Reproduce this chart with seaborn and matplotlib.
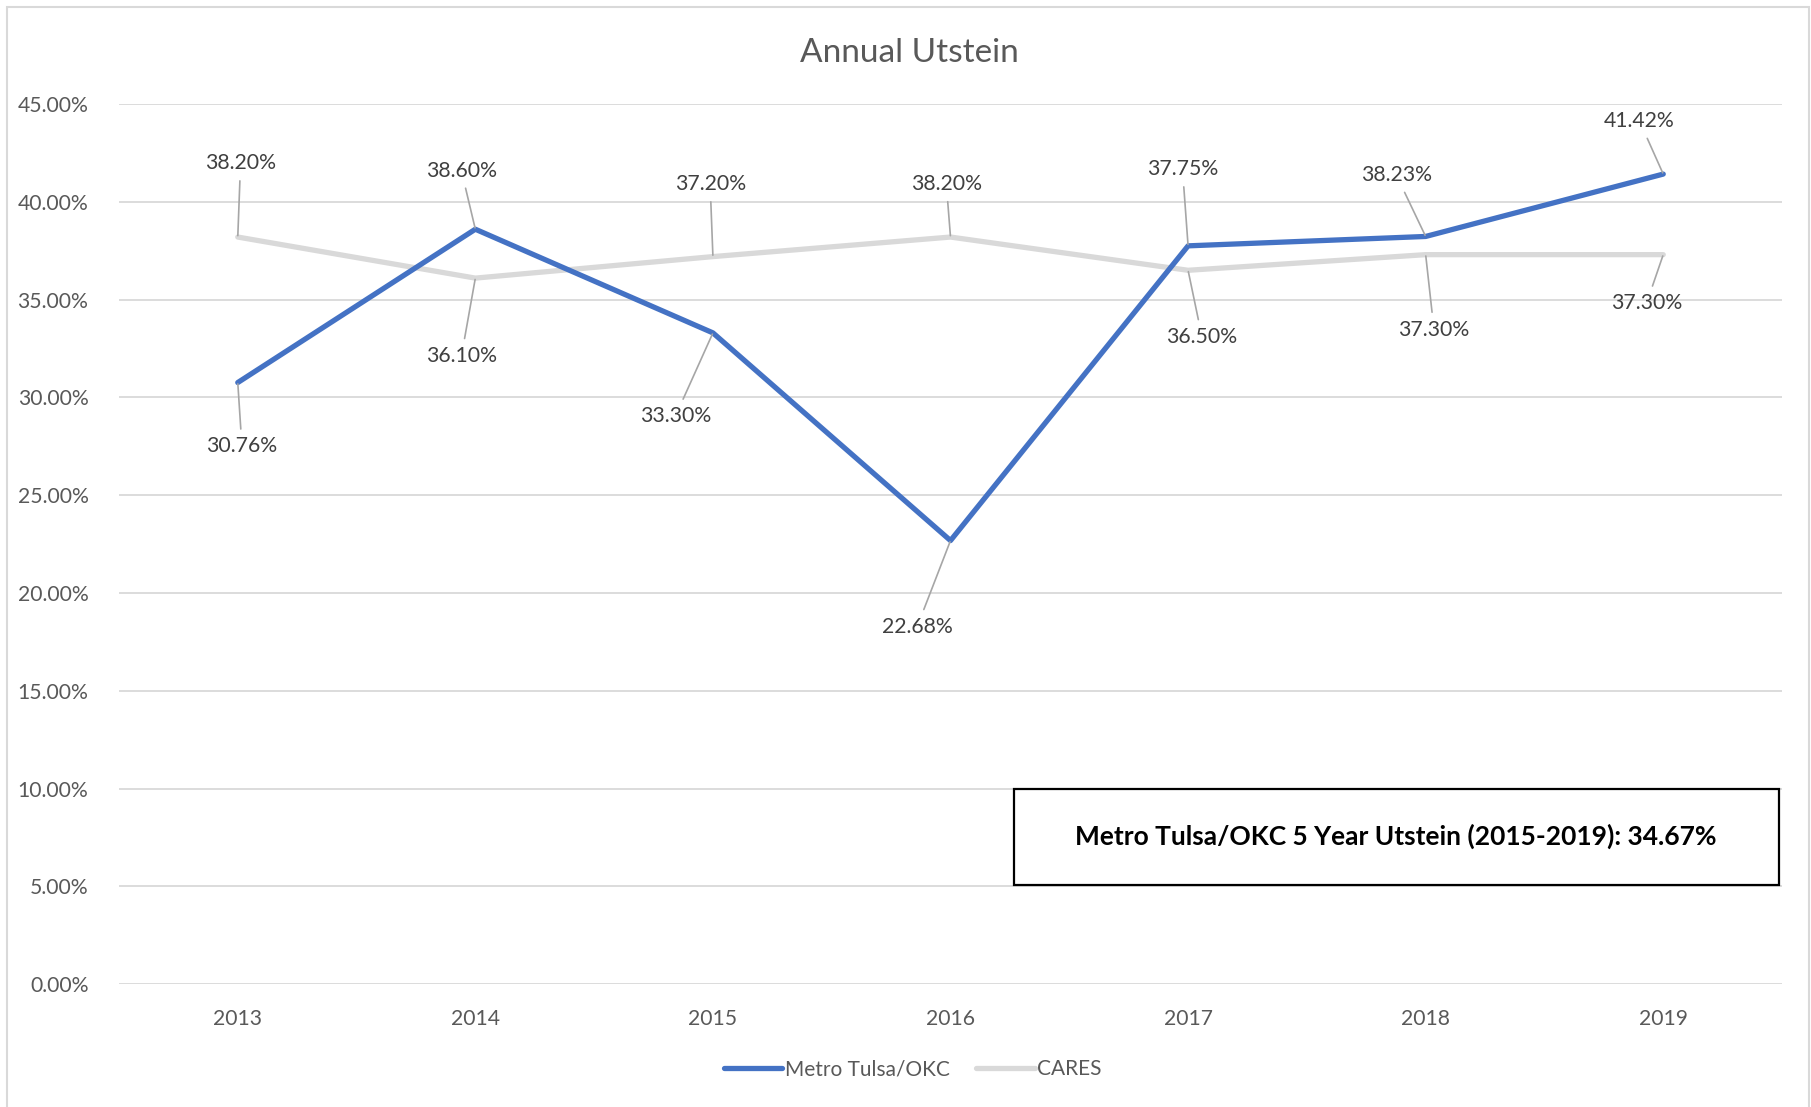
import matplotlib
matplotlib.use("Agg")
import matplotlib.pyplot as plt
import matplotlib.patches as mpatches
import pandas as pd
import seaborn as sns

# values (percent)
years = ["2013", "2014", "2015", "2016", "2017", "2018", "2019"]
metro = [30.76, 38.60, 33.30, 22.68, 37.75, 38.23, 41.42]
cares = [38.20, 36.10, 37.20, 38.20, 36.50, 37.30, 37.30]
series_names = ["Metro Tulsa/OKC", "CARES"]
y_ticks = [0, 5, 10, 15, 20, 25, 30, 35, 40, 45]
title = "Annual Utstein"
box_text = "Metro Tulsa/OKC 5 Year Utstein (2015-2019): 34.67%"

# label offsets (points, x right / y up) for the data labels
metro_off = [(3, -46), (-10, 42), (-27, -60), (-24, -62), (-4, 55), (-21, 44), (-17, 38)]
cares_off = [(2, 53), (-10, -56), (-2, 52), (-3, 38), (10, -48), (6, -54), (-12, -35)]

colors = {"Metro Tulsa/OKC": "#4472C4", "CARES": "#D9D9D9"}

df = pd.DataFrame({
    "year": years * 2,
    "value": metro + cares,
    "series": [series_names[0]] * len(years) + [series_names[1]] * len(years),
})

sns.set_theme(style="white")
plt.rcParams["font.family"] = ["Lato", "DejaVu Sans"]

fig = plt.figure(figsize=(18.11, 11.07), dpi=100)
ax = fig.add_axes([0.0657, 0.111, 0.9183, 0.795])

sns.lineplot(data=df, x="year", y="value", hue="series", palette=colors,
             hue_order=["CARES", "Metro Tulsa/OKC"], sort=False,
             linewidth=3.8, ax=ax, legend=False)
for ln in ax.get_lines():
    ln.set_solid_capstyle("round")
    ln.set_solid_joinstyle("round")

ax.set_xlim(-0.5, 6.5)
ax.set_ylim(0, 45)
ax.set_yticks(y_ticks)
ax.set_yticklabels([f"{v:.2f}%" for v in y_ticks])
ax.grid(axis="y", color="#D9D9D9", linewidth=1.3)
ax.set_axisbelow(True)
for s in ax.spines.values():
    s.set_visible(False)
ax.tick_params(axis="both", length=0, labelsize=15.2, labelcolor="#595959")
ax.tick_params(axis="y", pad=22)
ax.tick_params(axis="x", pad=18)
ax.set_xlabel("")
ax.set_ylabel("")

fig.text(0.502, 0.952, title, ha="center", va="center", fontsize=24, color="#595959")

# data labels with leader lines
for vals, offs in [(metro, metro_off), (cares, cares_off)]:
    for i, (v, off) in enumerate(zip(vals, offs)):
        ax.annotate(f"{v:.2f}%", xy=(i, v), xytext=off, textcoords="offset points",
                    ha="center", va="center", fontsize=15.3, color="#404040",
                    arrowprops=dict(arrowstyle="-", color="#A6A6A6", lw=1.2,
                                    shrinkA=3, shrinkB=1))

# summary box
ax.add_patch(mpatches.Rectangle((0.538, 0.113), 0.46, 0.109, transform=ax.transAxes,
                                fill=False, edgecolor="black", linewidth=1.6,
                                clip_on=False, zorder=5))
ax.text(0.768, 0.1675, box_text, transform=ax.transAxes, ha="center", va="center",
        fontsize=19, fontweight="bold", color="black")

# legend
handles = [plt.Line2D([], [], color=colors[n], linewidth=3.8, solid_capstyle="round")
           for n in series_names]
fig.legend(handles, series_names, loc="center", bbox_to_anchor=(0.504, 0.034),
           ncol=2, frameon=False, fontsize=15, handlelength=2.8, handletextpad=0.12,
           columnspacing=1.3, labelcolor="#595959")

# chart border
fig.patches.append(mpatches.Rectangle((0.004, -0.01), 0.995, 1.004, transform=fig.transFigure,
                                      fill=False, edgecolor="#D9D9D9", linewidth=1.5))

fig.savefig("out.png", dpi=100, facecolor="white")
